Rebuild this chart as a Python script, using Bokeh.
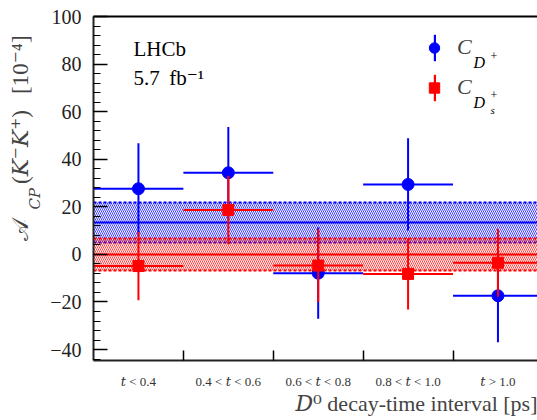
import math
from bokeh.plotting import figure
from bokeh.models import (Range1d, FixedTicker, SingleIntervalTicker, Label, Legend,
                          LegendItem, LinearAxis, ColumnDataSource, Title)
from bokeh.embed import file_html
from bokeh.resources import INLINE

# ---------------- data ----------------
BIN_LO = [0, 1, 2, 3, 4]
BIN_HI = [1, 2, 3, 4, 5]
BIN_LABELS = ["\U0001D461 < 0.4", "0.4 < \U0001D461 < 0.6", "0.6 < \U0001D461 < 0.8",
              "0.8 < \U0001D461 < 1.0", "\U0001D461 > 1.0"]

DP_VAL = [27.6, 34.3, -7.9, 29.4, -17.4]     # C_{D+}
DP_ERR = [19.1, 19.2, 19.2, 19.4, 19.5]
DS_VAL = [-4.9, 18.7, -4.7, -8.2, -3.5]      # C_{Ds+}
DS_ERR = [14.4, 14.4, 15.3, 15.0, 14.3]

DP_AVG, DP_AVG_ERR = 13.3, 8.5
DS_AVG, DS_AVG_ERR = -0.1, 6.6

BLUE = "#0000ff"
RED = "#ff0000"
SERIF = "Liberation Serif, DejaVu Serif"

centers = [(a + b) / 2 for a, b in zip(BIN_LO, BIN_HI)]

def src(vals, errs):
    return ColumnDataSource(dict(
        x=centers, lo=BIN_LO, hi=BIN_HI, y=vals,
        ylo=[v - e for v, e in zip(vals, errs)],
        yhi=[v + e for v, e in zip(vals, errs)]))

sdp = src(DP_VAL, DP_ERR)
sds = src(DS_VAL, DS_ERR)

p = figure(width=537, height=420, output_backend="svg", toolbar_location=None,
           x_range=Range1d(0, 4.94), y_range=Range1d(-44.6, 100),
           min_border_left=93, min_border_right=0, min_border_top=16, min_border_bottom=60)
p.grid.visible = False
p.outline_line_color = None
p.background_fill_color = "white"
p.border_fill_color = "white"

xa = p.below[0]
ya = p.left[0]

# top border as axis
top = LinearAxis(ticker=FixedTicker(ticks=[]), axis_line_width=2, axis_line_color="black",
                 major_tick_in=0, major_tick_out=0, minor_tick_in=0, minor_tick_out=0,
                 major_label_text_font_size="0px")
p.add_layout(top, "above")

# y axis
ya.ticker = SingleIntervalTicker(interval=20, num_minor_ticks=5)
ya.major_tick_in = 14
ya.major_tick_out = 0
ya.minor_tick_in = 7
ya.minor_tick_out = 0
ya.axis_line_width = 2
ya.axis_line_color = "#222222"
ya.major_tick_line_width = 1.5
ya.minor_tick_line_width = 1.2
ya.major_label_text_font = SERIF
ya.major_label_text_font_size = "20px"
ya.major_label_text_color = "#222222"
ya.major_label_standoff = 12

# x axis
xa.ticker = FixedTicker(ticks=centers, minor_ticks=BIN_HI[:-1])
xa.major_label_overrides = {c: lab for c, lab in zip(centers, BIN_LABELS)}
xa.major_tick_in = 0
xa.major_tick_out = 0
xa.minor_tick_in = 10
xa.minor_tick_out = 0
xa.minor_tick_line_width = 1.5
xa.axis_line_width = 2
xa.axis_line_color = "#222222"
xa.major_label_text_font = SERIF
xa.major_label_text_font_size = "13px"
xa.major_label_text_color = "#333333"
xa.major_label_standoff = 13

# axis titles
p.add_layout(Title(text="\U0001D437\u2070 decay-time interval [ps]", align="right", offset=0,
                   text_font=SERIF, text_font_style="normal", text_font_size="22px",
                   vertical_align="bottom", standoff=-6), "below")
p.add_layout(Title(text="\U0001D436\U0001D443", align="left", offset=151,
                   text_font=SERIF, text_font_style="normal", text_font_size="15px",
                   vertical_align="bottom", standoff=10), "left")
p.add_layout(Title(text="\U0001D49C\u2003\u2002(\U0001D43E\u207b\U0001D43E\u207a)\u2002\u2009[10\u207b\u2074]",
                   align="left", offset=120,
                   text_font=SERIF, text_font_style="normal", text_font_size="23px",
                   vertical_align="bottom", standoff=-26), "left")

# ---------------- average bands ----------------
for avg, err, col in [(DP_AVG, DP_AVG_ERR, BLUE), (DS_AVG, DS_AVG_ERR, RED)]:
    p.hstrip(y0=[avg - err], y1=[avg + err], fill_color=None, line_color=None,
             hatch_pattern="\\", hatch_color=col, hatch_scale=4, hatch_weight=1, hatch_alpha=0.75)
    p.hspan(y=[avg - err, avg + err], line_color=col, line_width=2, line_dash="3 2")
    p.hspan(y=[avg], line_color=col, line_width=2)

# ---------------- data points ----------------
p.segment(x0="lo", x1="hi", y0="y", y1="y", source=sdp, line_color=BLUE, line_width=2)
p.segment(x0="x", x1="x", y0="ylo", y1="yhi", source=sdp, line_color=BLUE, line_width=2)
r_dp = p.scatter(x="x", y="y", source=sdp, marker="circle", size=12, fill_color=BLUE, line_color=BLUE)

p.segment(x0="lo", x1="hi", y0="y", y1="y", source=sds, line_color=RED, line_width=2)
p.segment(x0="x", x1="x", y0="ylo", y1="yhi", source=sds, line_color=RED, line_width=2)
r_ds = p.scatter(x="x", y="y", source=sds, marker="square", size=11, fill_color=RED, line_color=RED)

# zero-area bars only used as vertical legend keys
v_dp = p.vbar(x="x", bottom="y", top="y", width=0, source=sdp, fill_color=BLUE, line_color=None)
v_ds = p.vbar(x="x", bottom="y", top="y", width=0, source=sds, fill_color=RED, line_color=None)

leg_a = Legend(items=[LegendItem(label=" ", renderers=[v_dp]), LegendItem(label=" ", renderers=[v_ds])],
               location=(339.5, 256.5), glyph_width=3, glyph_height=33, spacing=7, padding=0, margin=0,
               label_text_font_size="1px", label_standoff=0, label_width=0, label_height=0,
               border_line_color=None, background_fill_alpha=0)
leg_b = Legend(items=[LegendItem(label="C", renderers=[r_dp]), LegendItem(label="C", renderers=[r_ds])],
               location=(328, 256.5), glyph_width=26, glyph_height=33, spacing=7, padding=0, margin=0,
               label_text_font=SERIF, label_text_font_style="italic", label_text_font_size="22px",
               label_standoff=10, label_height=0,
               border_line_color=None, background_fill_alpha=0)
p.add_layout(leg_a)
p.add_layout(leg_b)

def lab(text, x, y, size, style="normal"):
    p.add_layout(Label(x=x, y=y, x_units="screen", y_units="screen", text=text,
                       text_font=SERIF, text_font_size=size, text_font_style=style,
                       text_align="left", text_baseline="alphabetic", text_color="black"))

# legend sub/superscripts
lab("D", 380, 298, "16px", "italic")
lab("+", 397, 305, "12px")
lab("D", 380, 258, "16px", "italic")
lab("+", 397, 266, "12px")
lab("s", 397, 251, "11px", "italic")

# experiment labels
lab("LHCb", 40, 312, "21px")
lab("5.7 \u2009fb\u207b\u00b9", 40, 283, "21px")

open("out.html", "w").write(file_html(p, INLINE))
